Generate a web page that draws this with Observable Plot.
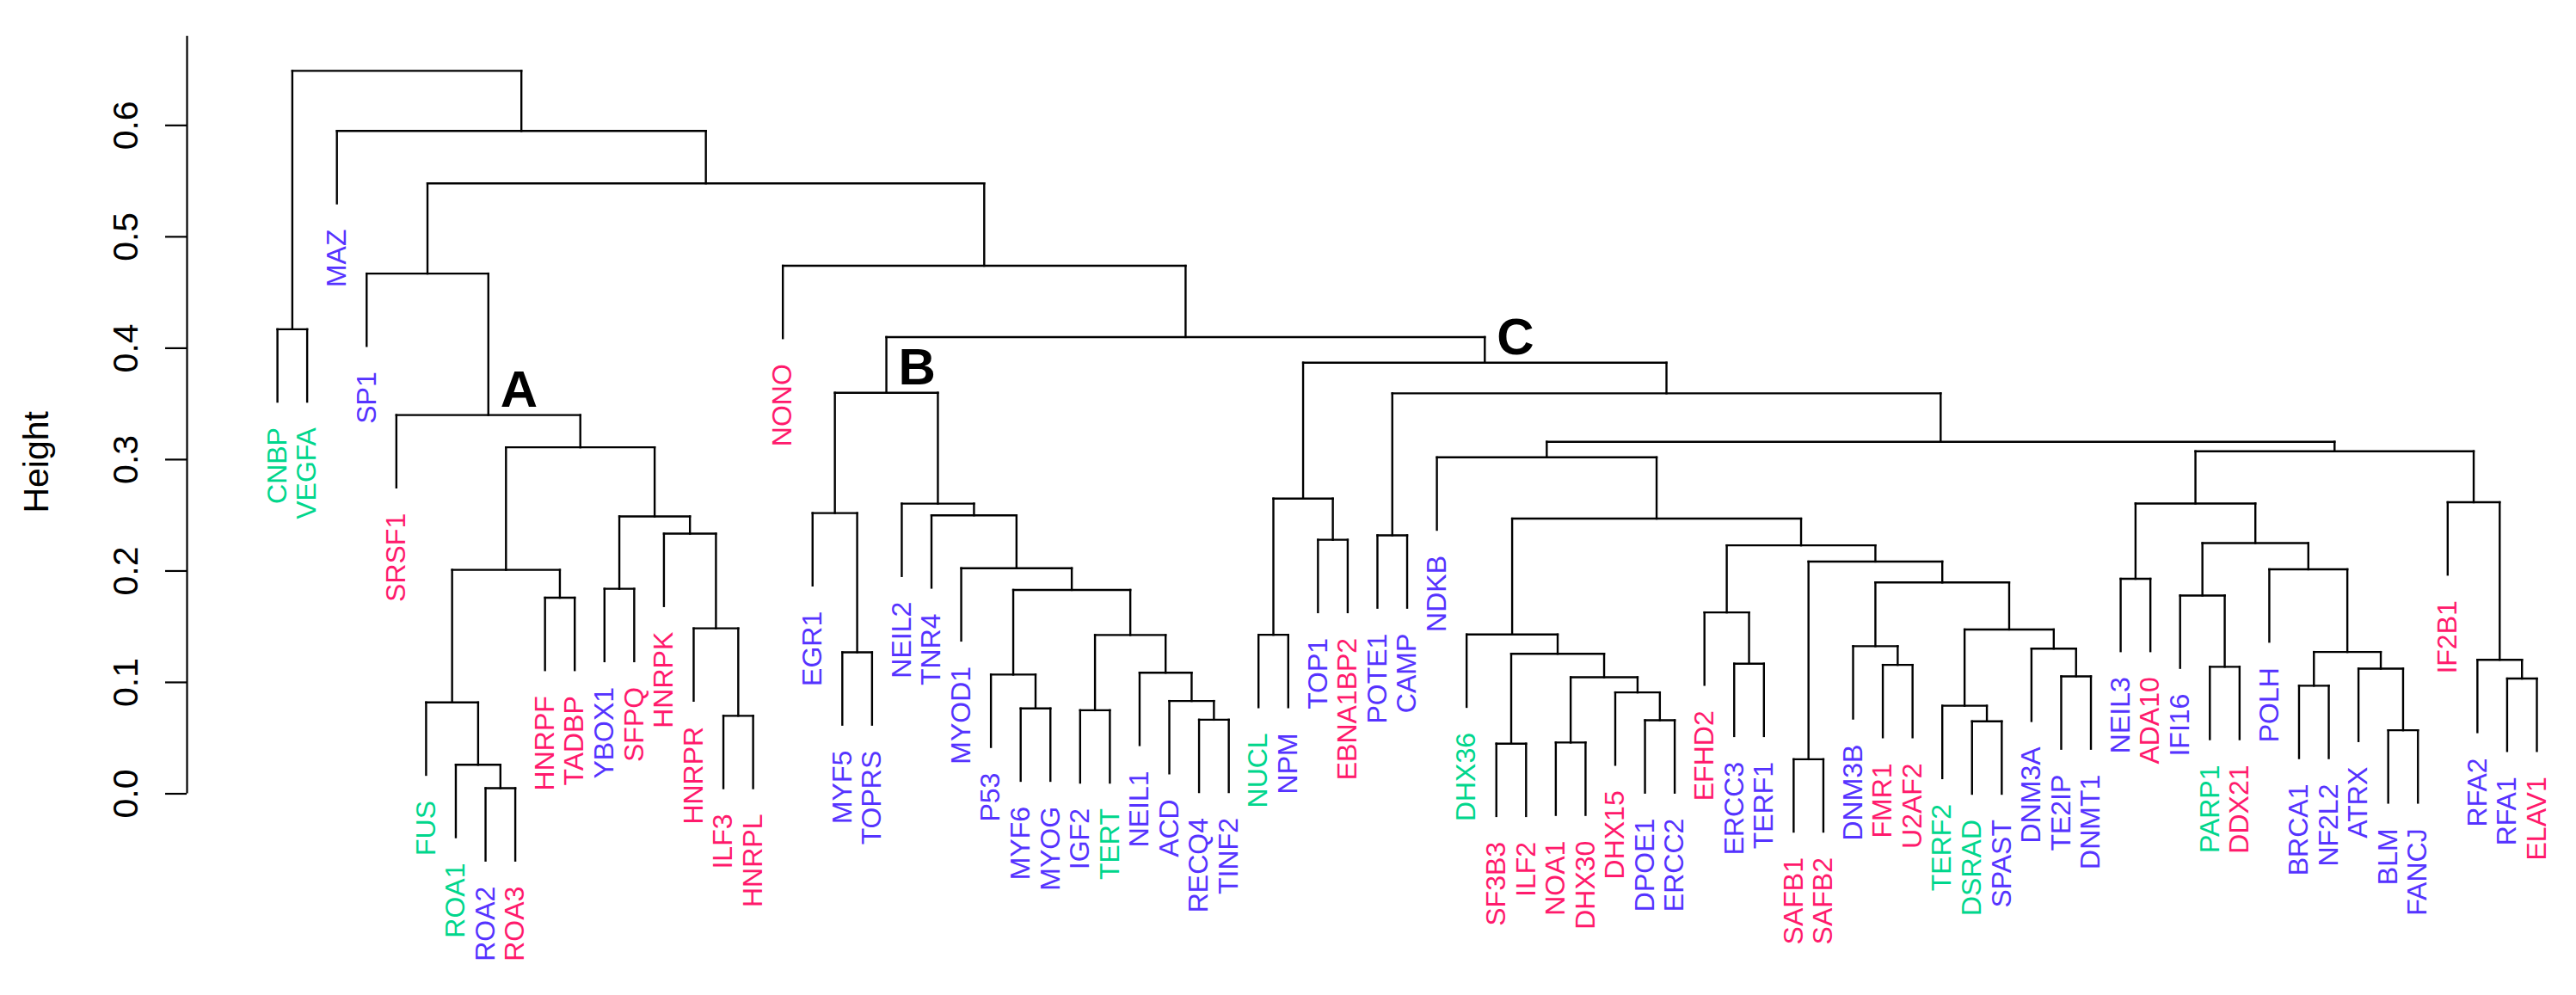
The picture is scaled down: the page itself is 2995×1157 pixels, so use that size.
<!DOCTYPE html>
<html><head><meta charset="utf-8">
<script src="https://cdn.jsdelivr.net/npm/d3@7"></script>
<script src="https://cdn.jsdelivr.net/npm/@observablehq/plot@0.6"></script>
<style>html,body{margin:0;padding:0;background:#fff;overflow:hidden}</style>
</head><body><div id="chart"></div>
<script>
// ---- data ----
const leaves = ["CNBP","VEGFA","MAZ","SP1","SRSF1","FUS","ROA1","ROA2","ROA3","HNRPF","TADBP","YBOX1","SFPQ","HNRPK","HNRPR","ILF3","HNRPL","NONO","EGR1","MYF5","TOPRS","NEIL2","TNR4","MYOD1","P53","MYF6","MYOG","IGF2","TERT","NEIL1","ACD","RECQ4","TINF2","NUCL","NPM","TOP1","EBNA1BP2","POTE1","CAMP","NDKB","DHX36","SF3B3","ILF2","NOA1","DHX30","DHX15","DPOE1","ERCC2","EFHD2","ERCC3","TERF1","SAFB1","SAFB2","DNM3B","FMR1","U2AF2","TERF2","DSRAD","SPAST","DNM3A","TE2IP","DNMT1","NEIL3","ADA10","IFI16","PARP1","DDX21","POLH","BRCA1","NF2L2","ATRX","BLM","FANCJ","IF2B1","RFA2","RFA1","ELAV1"];
const group1Leaves = ["CNBP","VEGFA","FUS","ROA1","TERT","NUCL","DHX36","TERF2","DSRAD","PARP1"];
const group3Leaves = ["SRSF1","ROA3","HNRPF","TADBP","SFPQ","HNRPK","HNRPR","ILF3","HNRPL","NONO","EBNA1BP2","SF3B3","ILF2","NOA1","DHX30","DHX15","EFHD2","SAFB1","SAFB2","FMR1","U2AF2","ADA10","DDX21","IF2B1","ELAV1"];
const groups = ["group 1","group 2","group 3"];
const groupColors = ["#00d68c","#5533ff","#ff1a6c"];

// merges: [id, left, right, height]
const merges = [
  ["m1","ROA2","ROA3",0.005],["m2","ROA1","m1",0.026],["m3","FUS","m2",0.082],
  ["m4","HNRPF","TADBP",0.176],["m5","m3","m4",0.201],
  ["m6","YBOX1","SFPQ",0.184],["m7","ILF3","HNRPL",0.070],["m8","HNRPR","m7",0.1485],
  ["m9","HNRPK","m8",0.2335],["m10","m6","m9",0.249],["m11","m5","m10",0.311],
  ["A","SRSF1","m11",0.340],["m12","SP1","A",0.467],
  ["m13","MYF5","TOPRS",0.127],["m14","EGR1","m13",0.252],
  ["m15","MYF6","MYOG",0.0766],["m16","P53","m15",0.107],["m17","IGF2","TERT",0.075],
  ["m18","RECQ4","TINF2",0.0665],["m19","ACD","m18",0.0833],["m20","NEIL1","m19",0.1087],
  ["m21","m17","m20",0.1425],["m22","m16","m21",0.183],["m23","MYOD1","m22",0.2025],
  ["m24","TNR4","m23",0.250],["m25","NEIL2","m24",0.2605],["B","m14","m25",0.360],
  ["m26","NUCL","NPM",0.1427],["m27","TOP1","EBNA1BP2",0.228],["m28","m26","m27",0.265],
  ["m29","POTE1","CAMP",0.232],
  ["m30","SF3B3","ILF2",0.045],["m31","NOA1","DHX30",0.046],["m32","DPOE1","ERCC2",0.066],
  ["m33","DHX15","m32",0.091],["m34","m31","m33",0.1046],["m35","m30","m34",0.1257],
  ["m36","DHX36","m35",0.143],["m37","ERCC3","TERF1",0.1168],["m38","EFHD2","m37",0.1628],
  ["m39","SAFB1","SAFB2",0.031],["m40","FMR1","U2AF2",0.1157],["m41","DNM3B","m40",0.1325],
  ["m42","DSRAD","SPAST",0.065],["m43","TERF2","m42",0.079],["m44","TE2IP","DNMT1",0.1054],
  ["m45","DNM3A","m44",0.1303],["m46","m43","m45",0.1475],["m47","m41","m46",0.1897],
  ["m48","m39","m47",0.2085],["m49","m38","m48",0.223],["m50","m36","m49",0.247],
  ["m51","NDKB","m50",0.302],
  ["m52","NEIL3","ADA10",0.193],["m53","PARP1","DDX21",0.114],["m54","IFI16","m53",0.178],
  ["m55","BRCA1","NF2L2",0.097],["m56","BLM","FANCJ",0.057],["m57","ATRX","m56",0.1123],
  ["m58","m55","m57",0.1273],["m59","POLH","m58",0.2015],["m60","m54","m59",0.225],
  ["m61","m52","m60",0.2606],["m62","RFA1","ELAV1",0.1034],["m63","RFA2","m62",0.1203],
  ["m64","IF2B1","m63",0.2617],["m65","m61","m64",0.3075],["m66","m51","m65",0.316],
  ["m67","m29","m66",0.3595],["C","m28","m67",0.387],
  ["U","B","C",0.410],["T","NONO","U",0.474],["S","m12","T",0.548],
  ["R","MAZ","S",0.595],["m68","CNBP","VEGFA",0.417],["root","m68","R",0.649]
];
const clusterLabels = ["A","B","C"];
const yTicks = [0, 0.1, 0.2, 0.3, 0.4, 0.5, 0.6];
const hang = 0.065;
const yTop = 0.68;

// ---- build dendrogram geometry ----
const n = leaves.length;
const nodes = new Map();
leaves.forEach((name, i) => nodes.set(name, {x: i, h: null, leaf: true, name}));
const segments = [];
const leafData = [];
for (const [id, a, b, h] of merges) {
  const L = nodes.get(a), Rt = nodes.get(b);
  segments.push({x1: L.x, x2: Rt.x, y1: h, y2: h});
  for (const c of [L, Rt]) {
    const bottom = c.leaf ? h - hang : c.h;
    segments.push({x1: c.x, x2: c.x, y1: bottom, y2: h});
    if (c.leaf) {
      const g = group1Leaves.includes(c.name) ? groups[0] : group3Leaves.includes(c.name) ? groups[2] : groups[1];
      leafData.push({x: c.x, y: bottom, name: c.name, group: g});
    }
  }
  nodes.set(id, {x: (L.x + Rt.x) / 2, h, leaf: false, name: id});
}
const clusterData = clusterLabels.map(k => ({label: k, x: nodes.get(k).x, y: nodes.get(k).h}));
const xMin = -0.04 * (n - 1);

const chart = Plot.plot({
  width: 2995,
  height: 1157,
  marginLeft: 217,
  marginRight: 46,
  marginTop: 41.7,
  marginBottom: 234.5,
  x: {domain: [xMin, n - 1], axis: null},
  y: {domain: [0, yTop], axis: null},
  color: {type: "ordinal", domain: groups, range: groupColors},
  style: {fontFamily: "'Liberation Sans', Arial, sans-serif", fontSize: "40px", background: "white", overflow: "visible"},
  marks: [
    Plot.ruleX([xMin], {y1: 0, y2: yTop, stroke: "black", strokeWidth: 2.2}),
    Plot.axisY({ticks: yTicks, tickFormat: d3.format(".1f"), tickSize: 25, tickRotate: -90, tickPadding: 33, fontSize: 41, strokeWidth: 2.2, anchor: "left"}),
    Plot.text(["Height"], {frameAnchor: "left", dx: -175, dy: 114, rotate: -90, fontSize: 41, fill: "black"}),
    Plot.link(segments, {x1: "x1", y1: "y1", x2: "x2", y2: "y2", stroke: "black", strokeWidth: 2.4, strokeLinecap: "square"}),
    Plot.text(leafData, {x: "x", y: "y", text: "name", fill: "group", rotate: -90, textAnchor: "end", dy: 30, fontSize: 32}),
    Plot.text(clusterData, {x: "x", y: "y", text: "label", textAnchor: "start", lineAnchor: "bottom", dx: 14, dy: -10, fontSize: 60, fontWeight: "bold", fill: "black"})
  ]
});
document.getElementById("chart").appendChild(chart);
</script>
</body></html>
